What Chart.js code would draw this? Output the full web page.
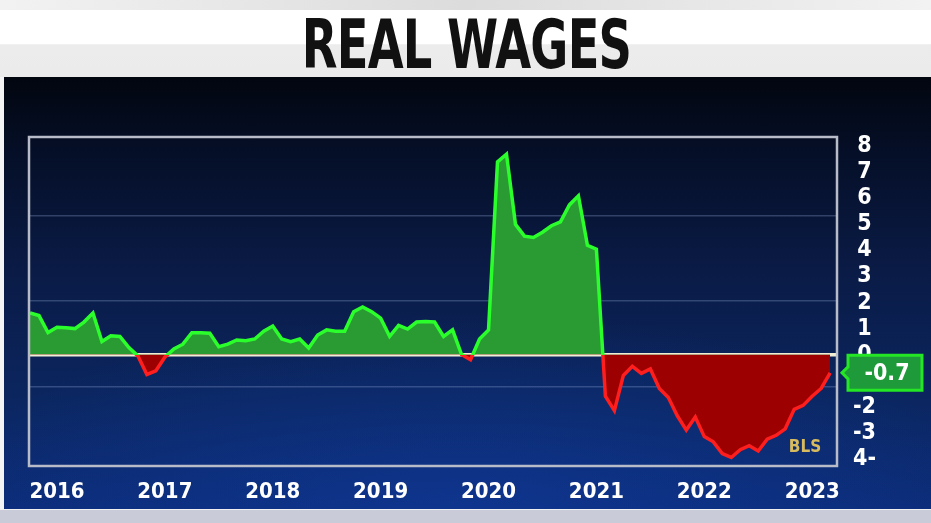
<!DOCTYPE html>
<html>
<head>
<meta charset="utf-8">
<script src="https://cdn.jsdelivr.net/npm/chart.js@4.4.0/dist/chart.umd.min.js"></script>
<style>
  html, body { margin: 0; padding: 0; }
  body { width: 931px; height: 523px; position: relative; overflow: hidden; background: #f4f4f4; }
  #top-strip { position: absolute; left: 0; top: 0; width: 931px; height: 10px;
    background: linear-gradient(90deg, #f2f2f2 0%, #dcdcdc 50%, #f2f2f2 100%); }
  #title-band { position: absolute; left: 0; top: 10px; width: 931px; height: 67px;
    background: linear-gradient(180deg, #ffffff 0%, #ffffff 50%, #ececec 52%, #ebebeb 100%); }
  #title { position: absolute; left: 0; top: 5px; width: 931px; text-align: center;
    font-family: 'Liberation Sans Narrow', 'DejaVu Sans Condensed', sans-serif; font-weight: bold;
    font-size: 67px; line-height: 60px; color: #111; letter-spacing: -1px;
    transform: scaleX(0.77); transform-origin: 470px 0; }
  #panel { position: absolute; left: 4px; top: 77px; width: 927px; height: 432px;
    background:
      radial-gradient(ellipse 60% 45% at 50% 100%, rgba(16,60,160,0.55) 0%, rgba(16,60,160,0) 100%),
      linear-gradient(180deg, #02060f 0%, #050f28 18%, #0a1b46 45%, #0b2660 75%, #0c2c78 100%); }
  #bottom-strip { position: absolute; left: 0; top: 509px; width: 931px; height: 14px;
    background: #c9ccd8; border-top: 1px solid #f0f0f0; }
  canvas { position: absolute; left: 0; top: 1px; }
</style>
</head>
<body>
<div id="top-strip"></div>
<div id="title-band"><div id="title">REAL WAGES</div></div>
<div id="panel"><canvas id="grafico" width="927" height="431"></canvas></div>
<div id="bottom-strip"></div>
<script>
// Real wages, % change y/y, monthly from Oct 2015
const valores = [
  1.6, 1.5, 0.85, 1.05, 1.03, 1.0, 1.25, 1.6, 0.5, 0.72,
  0.7, 0.27, -0.05, -0.76, -0.62, -0.1, 0.22, 0.4, 0.84, 0.84,
  0.82, 0.3, 0.4, 0.56, 0.53, 0.6, 0.9, 1.1, 0.6, 0.5,
  0.6, 0.25, 0.75, 0.95, 0.9, 0.9, 1.65, 1.83, 1.65, 1.4,
  0.7, 1.12, 0.98, 1.25, 1.27, 1.25, 0.7, 0.95, 0.0, -0.2,
  0.6, 0.95, 7.4, 7.7, 5.0, 4.55, 4.5, 4.7, 4.95, 5.1,
  5.75, 6.1, 4.2, 4.05, -1.6, -2.15, -0.8, -0.45, -0.72, -0.55,
  -1.3, -1.65, -2.35, -2.9, -2.4, -3.15, -3.35, -3.8, -3.95, -3.65,
  -3.5, -3.7, -3.25, -3.1, -2.85, -2.1, -1.95, -1.6, -1.3, -0.7
];
const anos = ['2016', '2017', '2018', '2019', '2020', '2021', '2022', '2023'];
const primeiroJaneiro = 3; // indice de jan/2016 na serie
const yTicks = [8, 7, 6, 5, 4, 3, 2, 1, 0, -1, -2, -3, -4];
const yTickLabels = ['8', '7', '6', '5', '4', '3', '2', '1', '0', '-1', '-2', '-3', '4-'];
const linhasGrade = [5.34, 2.06, -1.22];
const fonte = "'Liberation Sans Narrow', 'DejaVu Sans Condensed', sans-serif";

const VERDE = '#2bff2b';
const VERMELHO = '#ff1e1e';

// cor da linha: verde acima do zero, vermelha abaixo
function corLinha(ctx) {
  const chart = ctx.chart;
  const area = chart.chartArea;
  if (!area) return VERDE;
  const y0 = chart.scales.y.getPixelForValue(0);
  const p = Math.min(1, Math.max(0, (y0 - area.top) / (area.bottom - area.top)));
  const g = chart.ctx.createLinearGradient(0, area.top, 0, area.bottom);
  g.addColorStop(0, VERDE);
  g.addColorStop(p, VERDE);
  g.addColorStop(p, VERMELHO);
  g.addColorStop(1, VERMELHO);
  return g;
}

const molduraEtiqueta = {
  id: 'molduraEtiqueta',
  afterDraw(chart) {
    const { ctx, chartArea: a, scales } = chart;
    ctx.save();
    // moldura da area do grafico
    ctx.strokeStyle = '#b8bcc8';
    ctx.lineWidth = 2.5;
    ctx.strokeRect(a.left - 1, a.top - 1, a.right - a.left + 2, a.bottom - a.top + 2);

    // fonte BLS
    ctx.fillStyle = '#d8bb5e';
    ctx.font = 'bold 17px ' + fonte;
    ctx.textAlign = 'center';
    ctx.textBaseline = 'middle';
    ctx.fillText('BLS', a.right - 31, a.bottom - 17);

    // etiqueta do ultimo valor
    const ultimo = valores[valores.length - 1];
    const y = scales.y.getPixelForValue(ultimo);
    const x = a.right + 12, w = 74, h = 35;
    ctx.beginPath();
    ctx.moveTo(x, y - h / 2);
    ctx.lineTo(x + w, y - h / 2);
    ctx.lineTo(x + w, y + h / 2);
    ctx.lineTo(x, y + h / 2);
    ctx.lineTo(x, y + 6);
    ctx.lineTo(x - 6, y);
    ctx.lineTo(x, y - 6);
    ctx.closePath();
    ctx.fillStyle = '#1f9a3a';
    ctx.fill();
    ctx.strokeStyle = '#25e625';
    ctx.lineWidth = 3;
    ctx.stroke();
    ctx.fillStyle = '#ffffff';
    ctx.font = 'bold 23px ' + fonte;
    ctx.fillText(ultimo.toFixed(1), x + w / 2 + 2, y + 1);
    ctx.restore();
  }
};

new Chart(document.getElementById('grafico'), {
  type: 'line',
  data: {
    datasets: [{
      label: 'Real wages',
      data: valores.map((v, i) => ({ x: i, y: v })),
      borderColor: corLinha,
      borderWidth: 3.5,
      pointRadius: 0,
      tension: 0,
      fill: { target: 'origin', above: '#2a9a33', below: '#9c0000' }
    }]
  },
  options: {
    responsive: false,
    animation: false,
    layout: { padding: { left: 26, top: 60, right: 43, bottom: 0 } },
    plugins: { legend: { display: false }, tooltip: { enabled: false } },
    scales: {
      x: {
        type: 'linear',
        min: 0,
        max: 89.65,
        afterBuildTicks: s => { s.ticks = anos.map((a, k) => ({ value: primeiroJaneiro + 12 * k })); },
        afterFit: s => { s.height = 44; },
        grid: { display: false },
        border: { display: false },
        ticks: {
          color: '#ffffff',
          padding: 6,
          maxRotation: 0,
          autoSkip: false,
          font: { family: fonte, weight: 'bold', size: 22 },
          callback: v => anos[(v - primeiroJaneiro) / 12]
        }
      },
      y: {
        position: 'right',
        min: -4.24,
        max: 8.32,
        z: 1,
        afterBuildTicks: s => {
          s.ticks = yTicks.concat(linhasGrade).sort((a, b) => b - a).map(v => ({ value: v }));
        },
        afterFit: s => { s.width = 52; },
        border: { display: false },
        grid: {
          drawTicks: false,
          color: c => c.tick.value === 0 ? '#f2eed6' : (linhasGrade.includes(c.tick.value) ? 'rgba(150,170,215,0.3)' : 'rgba(0,0,0,0)'),
          lineWidth: c => c.tick.value === 0 ? 3.5 : 1.5
        },
        ticks: {
          color: '#ffffff',
          padding: 17,
          crossAlign: 'center',
          autoSkip: false,
          font: { family: fonte, weight: 'bold', size: 23, lineHeight: 1 },
          callback: v => {
            const i = yTicks.indexOf(v);
            return i >= 0 ? yTickLabels[i] : '';
          }
        }
      }
    }
  },
  plugins: [molduraEtiqueta]
});
</script>
</body>
</html>
